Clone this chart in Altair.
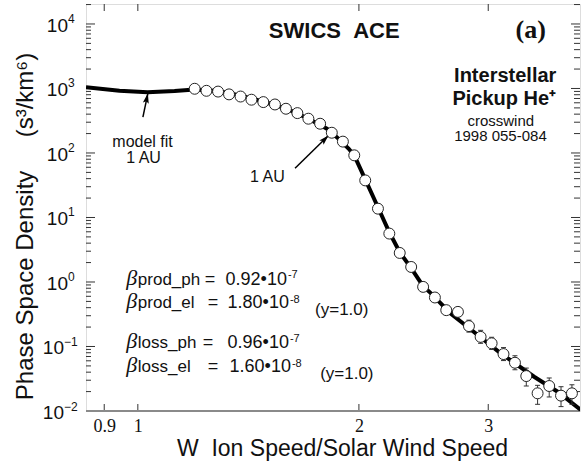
import altair as alt
import pandas as pd

# ---------------- data ----------------
obs_w = [1.195, 1.240, 1.286, 1.331, 1.380, 1.428, 1.482, 1.537, 1.591, 1.649,
         1.707, 1.771, 1.837, 1.902, 1.971, 2.040, 2.123, 2.200, 2.273, 2.356,
         2.446, 2.538, 2.630, 2.728, 2.824, 2.929, 3.032, 3.147, 3.262, 3.380,
         3.502, 3.632, 3.769, 3.900]
obs_f = [990, 920, 895, 810, 750, 670, 615, 565, 485, 415,
         340, 284, 206, 150, 92, 37.6, 13.7, 5.63, 2.82, 1.71,
         0.84, 0.575, 0.366, 0.344, 0.207, 0.141, 0.112, 0.0763, 0.056, 0.0348,
         0.0188, 0.0244, 0.0173, 0.0188]

err_w = [2.824, 2.929, 3.032, 3.147, 3.262, 3.380, 3.502, 3.632, 3.769, 3.900]
err_lo = [0.167, 0.112, 0.090, 0.0605, 0.0436, 0.0244, 0.0127, 0.0165, 0.0117, 0.0127]
err_hi = [0.256, 0.178, 0.139, 0.0962, 0.0719, 0.0463, 0.0250, 0.0325, 0.0238, 0.0255]

model_w = [0.85, 0.944, 1.031, 1.122, 1.195, 1.285, 1.377, 1.480, 1.591, 1.705,
           1.809, 1.866, 1.936, 1.971, 2.040, 2.123, 2.200, 2.273, 2.356, 2.446,
           2.503, 2.666, 2.810, 3.120, 3.464, 3.729, 4.01]
model_f = [1047, 921, 877, 915, 966, 915, 779, 629, 490, 343,
           238, 176, 117, 91.8, 39.0, 14.4, 5.90, 2.89, 1.64, 0.861,
           0.678, 0.325, 0.202, 0.0782, 0.034, 0.0199, 0.0104]

x_ticks = [0.9, 1, 2, 3]
y_major = [0.01, 0.1, 1, 10, 100, 1000, 10000]
y_minor = [0.02, 0.03, 0.04, 0.05, 0.06, 0.07, 0.08, 0.09,
           0.2, 0.3, 0.4, 0.5, 0.6, 0.7, 0.8, 0.9,
           2, 3, 4, 5, 6, 7, 8, 9,
           20, 30, 40, 50, 60, 70, 80, 90,
           200, 300, 400, 500, 600, 700, 800, 900,
           2000, 3000, 4000, 5000, 6000, 7000, 8000, 9000, 20000]
y_lab_pos = [1, 10, 100, 1000, 10000]
y_exp_pos = ["0", "1", "2", "3", "4"]
y_lab_neg = [0.01, 0.1]
y_exp_neg = ["\u22122", "\u22121"]

# annotation arrows (tail -> tip) in data coordinates
arrow_w0 = [1.016, 1.637]
arrow_f0 = [359, 57.8]
arrow_w1 = [1.032, 1.818]
arrow_f1 = [840, 187]

# annotation texts in data coordinates
NB = "\u00a0"
bold_t = ["SWICS" + NB * 2 + "ACE", "Interstellar", "Pickup He\u207a"]
bold_w = [1.851, 3.164, 3.155]
bold_f = [6095, 1253, 546]
bold_s = [22, 20, 20]

reg_t = ["crosswind", "1998 055-084", "model fit", "1 AU", "1 AU"]
reg_w = [3.120, 3.117, 1.015, 1.018, 1.501]
reg_f = [265, 152, 122, 69, 35.1]
reg_s = [15, 15, 16, 16, 16]

beta_f = [0.891, 0.393, 0.0944, 0.0402]
sub_t = ["prod_ph", "prod_el", "loss_ph", "loss_el"]
eq_w = [1.233, 1.245, 1.226, 1.245]
num_t = ["0.92\u202210", "1.80\u202210", "0.96\u202210", "1.60\u202210"]
exp_t = ["-7", "-8", "-7", "-8"]
exp_w = [1.601, 1.611, 1.611, 1.621]
exp_f = [1.145, 0.470, 0.117, 0.048]
yeq_t = ["(y=1.0)", "(y=1.0)"]
yeq_w = [1.743, 1.771]
yeq_f = [0.306, 0.0313]

# ---------------- chart ----------------
W, H = 494, 407
SANS = "Liberation Sans"
SERIF = "Liberation Serif"
INK = "#111111"
xs = alt.Scale(type="log", domain=[0.85, 4.0], nice=False)
ys = alt.Scale(type="log", domain=[0.01, 20400], nice=False)

x_axis = alt.Axis(values=x_ticks, format="~g", grid=False, domain=False, ticks=False, tickSize=0,
                  labelFont=SERIF, labelFontSize=18, labelColor=INK, labelPadding=6,
                  title="W" + NB * 2 + "Ion Speed/Solar Wind Speed", titleFont=SANS, titleFontSize=23,
                  titleFontWeight="normal", titleColor=INK, titleX=256, titleY=37,
                  titleAlign="center", titleBaseline="middle")
y_axis = alt.Axis(labels=False, ticks=False, domain=False, grid=False, tickSize=0,
                  title="Phase Space Density" + NB * 5 + "(s\u00b3/km\u2076)", titleFont=SANS,
                  titleFontSize=24, titleFontWeight="normal", titleColor=INK, titleX=-61, titleY=222,
                  titleAngle=270, titleAlign="center", titleBaseline="middle")


def X(field="w"):
    return alt.X(f"{field}:Q", scale=xs, axis=x_axis)


def Y(field="f"):
    return alt.Y(f"{field}:Q", scale=ys, axis=y_axis)


obs = pd.DataFrame({"w": obs_w, "f": obs_f})
err = pd.DataFrame({"w": err_w, "lo": err_lo, "hi": err_hi})
model = pd.DataFrame({"w": model_w, "f": model_f})
arrows = pd.DataFrame({"w0": arrow_w0, "f0": arrow_f0, "w1": arrow_w1, "f1": arrow_f1})

layers = []

# inward ticks
ymaj = pd.DataFrame({"f": y_major})
ymin = pd.DataFrame({"f": y_minor})
xt = pd.DataFrame({"w": x_ticks})
tick_style = dict(color="#333333", strokeWidth=1)
layers.append(alt.Chart(ymaj).mark_rule(**tick_style).encode(y=Y(), x=alt.value(0), x2=alt.value(9)))
layers.append(alt.Chart(ymin).mark_rule(**tick_style).encode(y=Y(), x=alt.value(0), x2=alt.value(5)))
layers.append(alt.Chart(ymaj).mark_rule(**tick_style).encode(y=Y(), x=alt.value(W - 9), x2=alt.value(W)))
layers.append(alt.Chart(ymin).mark_rule(**tick_style).encode(y=Y(), x=alt.value(W - 6), x2=alt.value(W)))
layers.append(alt.Chart(xt).mark_rule(**tick_style).encode(x=X(), y=alt.value(H), y2=alt.value(H - 7)))
layers.append(alt.Chart(xt).mark_rule(**tick_style).encode(x=X(), y=alt.value(0), y2=alt.value(7)))

# grey bottom axis line
layers.append(alt.Chart(pd.DataFrame({"f": [0.01]})).mark_rule(color="#8a8a8a", strokeWidth=2)
              .encode(y=Y(), x=alt.value(0), x2=alt.value(W)))

# model fit curve
layers.append(alt.Chart(model).mark_line(color="black", strokeWidth=4, clip=True)
              .encode(x=X(), y=Y()))

# arrows
layers.append(alt.Chart(arrows).mark_rule(color="black", strokeWidth=1.5)
              .encode(x=X("w0"), y=Y("f0"), x2="w1:Q", y2="f1:Q"))
head = "M0,0L-0.6,2L0,1.6L0.6,2Z"
layers.append(alt.Chart(arrows.iloc[[0]]).mark_point(shape=head, size=100, filled=True, color="black",
                                                      opacity=1, angle=12)
              .encode(x=X("w1"), y=Y("f1")))
layers.append(alt.Chart(arrows.iloc[[1]]).mark_point(shape=head, size=100, filled=True, color="black",
                                                      opacity=1, angle=45)
              .encode(x=X("w1"), y=Y("f1")))

# error bars
layers.append(alt.Chart(err).mark_rule(color="#333333", strokeWidth=1)
              .encode(x=X(), y=Y("lo"), y2="hi:Q"))
cap = dict(shape="M-1,0L1,0", size=25, filled=False, stroke="#333333", strokeWidth=1, opacity=1)
layers.append(alt.Chart(err).mark_point(**cap).encode(x=X(), y=Y("hi")))
layers.append(alt.Chart(err).mark_point(**cap).encode(x=X(), y=Y("lo")))

# observed points
layers.append(alt.Chart(obs).mark_point(shape="circle", size=120, filled=True, fill="white",
                                        stroke="#222222", strokeWidth=1, opacity=1)
              .encode(x=X(), y=Y()))

# y tick labels (10 with superscript exponent)
lp = pd.DataFrame({"f": y_lab_pos, "e": y_exp_pos})
ln = pd.DataFrame({"f": y_lab_neg, "e": y_exp_neg})
layers.append(alt.Chart(lp).mark_text(text="10", align="right", baseline="middle", dy=2, font=SANS,
                                      fontSize=19, color=INK)
              .encode(y=Y(), x=alt.value(-18)))
layers.append(alt.Chart(lp).mark_text(align="left", baseline="middle", dy=-5, font=SANS,
                                      fontSize=12, color=INK)
              .encode(y=Y(), x=alt.value(-18), text="e:N"))
layers.append(alt.Chart(ln).mark_text(text="10", align="right", baseline="middle", dy=2, font=SANS,
                                      fontSize=19, color=INK)
              .encode(y=Y(), x=alt.value(-22)))
layers.append(alt.Chart(ln).mark_text(align="left", baseline="middle", dy=-4, font=SANS,
                                      fontSize=12, color=INK)
              .encode(y=Y(), x=alt.value(-22), text="e:N"))

# annotation texts
bold = pd.DataFrame({"w": bold_w, "f": bold_f, "t": bold_t, "s": bold_s})
layers.append(alt.Chart(bold).mark_text(align="center", baseline="alphabetic", font=SANS,
                                        fontWeight="bold", color=INK)
              .encode(x=X(), y=Y(), text="t:N", size=alt.Size("s:Q", scale=None)))
reg = pd.DataFrame({"w": reg_w, "f": reg_f, "t": reg_t, "s": reg_s})
layers.append(alt.Chart(reg).mark_text(align="center", baseline="alphabetic", font=SANS, color=INK)
              .encode(x=X(), y=Y(), text="t:N", size=alt.Size("s:Q", scale=None)))
layers.append(alt.Chart(pd.DataFrame({"w": [3.428], "f": [6100], "t": ["(a)"]}))
              .mark_text(align="center", baseline="alphabetic", font=SERIF, fontWeight="bold",
                         fontSize=26, color=INK)
              .encode(x=X(), y=Y(), text="t:N"))

beta = pd.DataFrame({"w": [0.964] * 4, "f": beta_f, "t": ["\u03b2"] * 4})
layers.append(alt.Chart(beta).mark_text(align="left", baseline="alphabetic", font=SERIF,
                                        fontStyle="italic", fontSize=22, color=INK)
              .encode(x=X(), y=Y(), text="t:N"))
subs = pd.DataFrame({"w": [1.0] * 4, "f": beta_f, "t": sub_t})
layers.append(alt.Chart(subs).mark_text(align="left", baseline="alphabetic", font=SANS,
                                        fontSize=17, color=INK)
              .encode(x=X(), y=Y(), text="t:N"))
eqs = pd.DataFrame({"w": eq_w, "f": beta_f, "t": ["="] * 4})
layers.append(alt.Chart(eqs).mark_text(align="left", baseline="alphabetic", font=SANS,
                                       fontSize=18, color=INK)
              .encode(x=X(), y=Y(), text="t:N"))
nums = pd.DataFrame({"w": exp_w, "f": beta_f, "t": num_t})
layers.append(alt.Chart(nums).mark_text(align="right", baseline="alphabetic", font=SANS,
                                        fontSize=18, dx=-1, color=INK)
              .encode(x=X(), y=Y(), text="t:N"))
exps = pd.DataFrame({"w": exp_w, "f": exp_f, "t": exp_t})
layers.append(alt.Chart(exps).mark_text(align="left", baseline="alphabetic", font=SANS,
                                        fontSize=11, color=INK)
              .encode(x=X(), y=Y(), text="t:N"))
yeq = pd.DataFrame({"w": yeq_w, "f": yeq_f, "t": yeq_t})
layers.append(alt.Chart(yeq).mark_text(align="left", baseline="alphabetic", font=SANS,
                                       fontSize=17, color=INK)
              .encode(x=X(), y=Y(), text="t:N"))

chart = (
    alt.layer(*layers)
    .properties(width=W, height=H,
                padding={"left": 86, "top": 4, "right": 6, "bottom": 54},
                autosize=alt.AutoSizeParams(type="none"))
    .configure_view(stroke="#333333", strokeWidth=1.3)
    .configure(background="white")
)

chart.save("out.html", embed_options={"renderer": "svg", "actions": False})
